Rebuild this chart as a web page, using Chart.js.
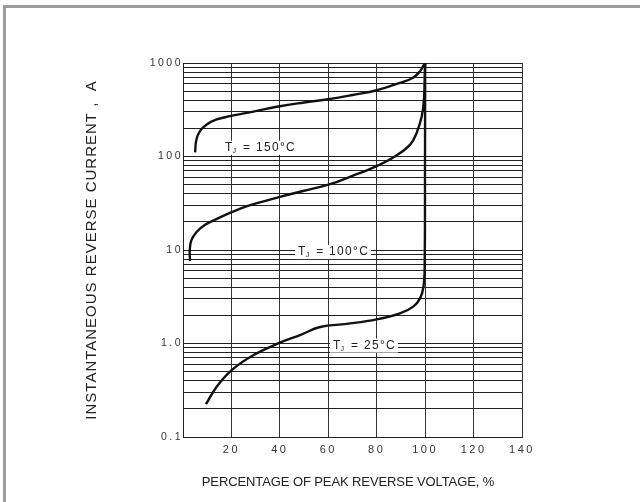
<!DOCTYPE html>
<html><head><meta charset="utf-8">
<script src="https://cdn.jsdelivr.net/npm/chart.js@4/dist/chart.umd.min.js"></script>
<style>html,body{margin:0;padding:0;background:#fff}</style>
</head><body>
<canvas id="c" width="640" height="502"></canvas>
<script>
// ---- data ----
const xTickValues = [0, 20, 40, 60, 80, 100, 120, 140];
const yDecadeLabels = ['0.1', '1.0', '10', '100', '1000'];
const yDecades = [0.1, 1, 10, 100, 1000];

const t150X = [5, 5.5, 7, 9.8, 13.9, 19.4, 26.3, 40, 50, 60.5, 70, 80, 89.6, 95, 97.9, 99.5, 100];
const t150Y = [111, 150, 187, 220, 249, 270, 293, 345, 378, 412, 455, 511, 614, 695, 818, 955, 1000];

const t100X = [2.9, 2.8, 3.4, 5.6, 9, 14, 19.4, 26.2, 40, 50, 60, 70, 80, 88, 93.8, 96.5, 98.6, 99.5, 99.9, 100];
const t100Y = [7.6, 10.0, 12.6, 15.6, 18.5, 21.5, 24.9, 29.3, 37, 43, 50, 62, 79, 102, 134, 179, 269, 407, 850, 1000];

const t25X = [9.5, 13.9, 20.1, 29, 40, 48.3, 56.6, 67.6, 80, 89.6, 95.1, 97.9, 99.3, 99.8, 99.95, 100];
const t25Y = [0.225, 0.345, 0.52, 0.75, 1.02, 1.23, 1.5, 1.62, 1.81, 2.1, 2.48, 3.04, 4.05, 6.6, 100, 1000];

const seriesNames = ['150', '100', '25'];
const labelAnchors = [ // [x %, y value] of left-middle of each label box
  [16.1, 124], [46.3, 9.5], [60.7, 0.95]
];

const toPts = (xs, ys) => xs.map((x, i) => ({x, y: ys[i]}));

const yTicksAll = [];
yDecades.slice(0, -1).forEach(d => { for (let m = 1; m < 10; m++) yTicksAll.push(+(d * m).toPrecision(3)); });
yTicksAll.push(1000);

const FONT = '"Liberation Sans", Arial, sans-serif';

const framePlugin = {
  id: 'frame',
  beforeDraw(chart) {
    const ctx = chart.ctx;
    ctx.save();
    ctx.fillStyle = '#fff';
    ctx.fillRect(0, 0, 640, 502);
    ctx.fillStyle = '#9c9c9c';
    ctx.fillRect(3, 5, 637, 3);
    ctx.fillRect(3, 5, 3, 497);
    ctx.restore();
    ctx.letterSpacing = '2.5px';
  },
  afterDatasetsDraw(chart) {
    const ctx = chart.ctx, xs = chart.scales.x, ys = chart.scales.y;
    ctx.save();
    ctx.letterSpacing = '1.3px';
    labelAnchors.forEach((a, i) => {
      const px = xs.getPixelForValue(a[0]), py = ys.getPixelForValue(a[1]);
      const rest = ' = ' + seriesNames[i] + '°C';
      ctx.font = '12px ' + FONT;
      const wT = ctx.measureText('T').width;
      ctx.font = '7px ' + FONT;
      const wJ = ctx.measureText('J').width;
      ctx.font = '12px ' + FONT;
      const wR = ctx.measureText(rest).width;
      const w = wT + wJ + wR + 5;
      ctx.fillStyle = '#fff';
      ctx.fillRect(px, py - 7, w, 14);
      ctx.fillStyle = '#222';
      ctx.textBaseline = 'middle';
      ctx.textAlign = 'left';
      ctx.fillText('T', px + 3, py);
      ctx.font = '7px ' + FONT;
      ctx.fillText('J', px + 3 + wT - 1, py + 3);
      ctx.font = '12px ' + FONT;
      ctx.fillText(rest, px + 3 + wT + wJ, py);
    });
    ctx.restore();
  },
  afterDraw(chart) {
    const ctx = chart.ctx;
    ctx.save();
    ctx.fillStyle = '#222';
    ctx.textAlign = 'center';
    ctx.textBaseline = 'middle';
    ctx.font = '15px ' + FONT;
    ctx.letterSpacing = '1px';
    ctx.translate(92, 250);
    ctx.rotate(-Math.PI / 2);
    ctx.fillText('INSTANTANEOUS REVERSE CURRENT ,  A', 0, 0);
    ctx.restore();
    ctx.save();
    ctx.fillStyle = '#222';
    ctx.textAlign = 'center';
    ctx.textBaseline = 'middle';
    ctx.font = '13px ' + FONT;
    ctx.letterSpacing = '-0.1px';
    ctx.fillText('PERCENTAGE OF PEAK REVERSE VOLTAGE, %', 348, 482);
    ctx.restore();
  }
};

const lineDs = (label, pts) => ({
  label, data: pts, borderColor: '#111', borderWidth: 2.4, pointRadius: 0,
  tension: 0.4, fill: false
});

new Chart(document.getElementById('c'), {
  type: 'line',
  data: {
    datasets: [
      lineDs('TJ = 150°C', toPts(t150X, t150Y)),
      lineDs('TJ = 100°C', toPts(t100X, t100Y)),
      lineDs('TJ = 25°C', toPts(t25X, t25Y))
    ]
  },
  options: {
    responsive: false,
    devicePixelRatio: 1,
    animation: false,
    layout: { padding: { top: 63, right: 118, left: 0, bottom: 0 } },
    plugins: { legend: { display: false }, tooltip: { enabled: false } },
    scales: {
      x: {
        type: 'linear', min: 0, max: 140,
        afterFit(s) { s.height = 65; },
        afterBuildTicks(s) { s.ticks = xTickValues.map(v => ({value: v})); },
        grid: { color: '#333', lineWidth: 1, drawTicks: false },
        border: { color: '#222', width: 1 },
        ticks: {
          padding: 6, color: '#333', autoSkip: false, maxRotation: 0,
          font: { family: FONT, size: 11 },
          callback: v => v === 0 ? '' : String(v)
        }
      },
      y: {
        type: 'logarithmic', min: 0.1, max: 1000,
        afterFit(s) { s.width = 183; },
        afterBuildTicks(s) { s.ticks = yTicksAll.map(v => ({value: v})); },
        grid: { color: '#222', lineWidth: 1, drawTicks: false },
        border: { color: '#222', width: 1 },
        ticks: {
          padding: 0, color: '#333', autoSkip: false,
          font: { family: FONT, size: 10.5 },
          callback: v => { const i = yDecades.findIndex(d => Math.abs(d - v) < 1e-9); return i >= 0 ? yDecadeLabels[i] : ''; }
        }
      }
    }
  },
  plugins: [framePlugin]
});
</script>
</body></html>
